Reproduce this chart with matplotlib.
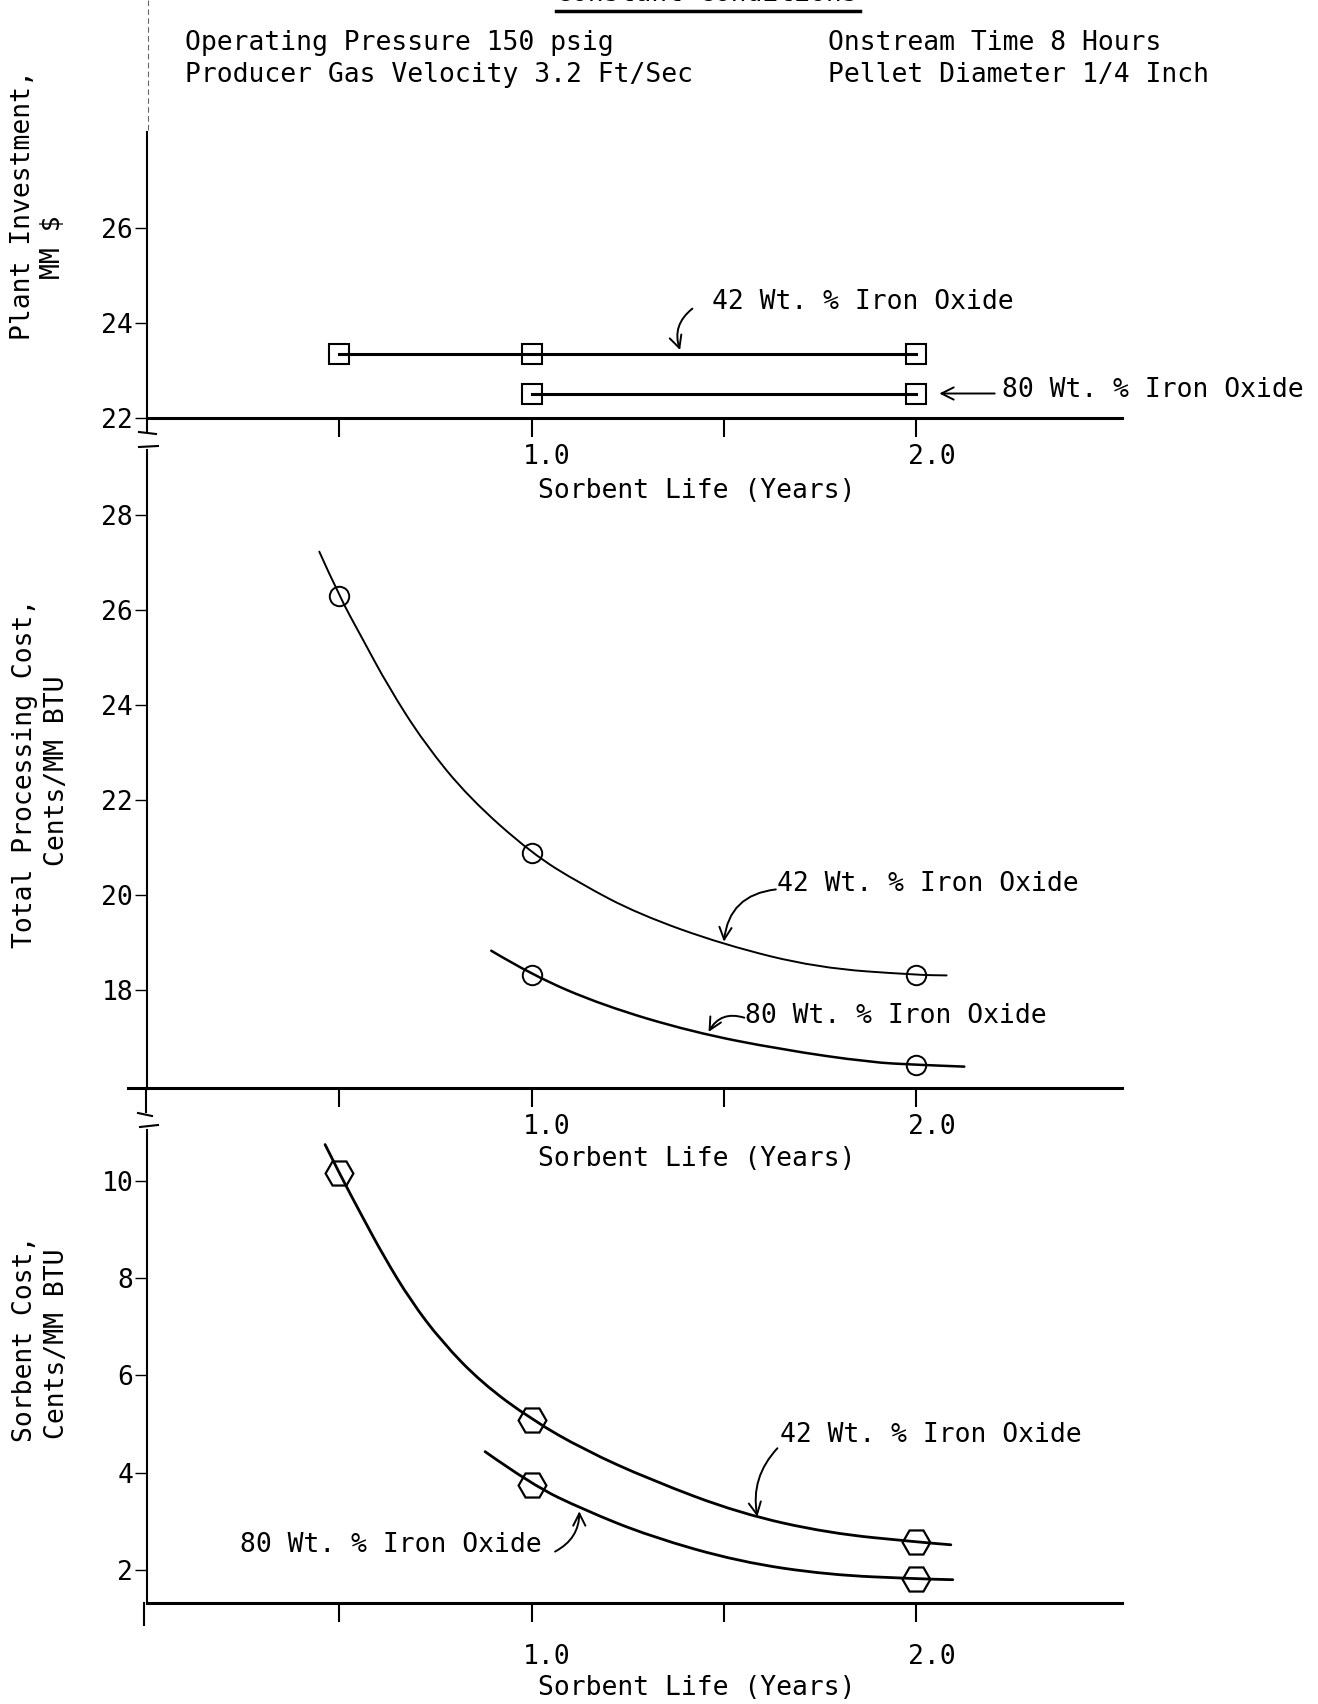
import matplotlib.pyplot as plt
from matplotlib.lines import Line2D
from matplotlib.path import Path
from matplotlib.patches import PathPatch

plt.rcParams['font.family'] = 'DejaVu Sans Mono'
plt.rcParams['font.size'] = 19

W, H = 1318, 1704

# sorbent life of the plotted cases (years)
life_42 = [0.5, 1.0, 2.0]
life_80 = [1.0, 2.0]

# plant investment, MM $
invest_42 = [23.35, 23.35, 23.35]
invest_80 = [22.5, 22.5]

# total processing cost, cents/MM BTU
total_42 = [26.29, 20.88, 18.32]
total_80 = [18.32, 16.43]

# sorbent cost, cents/MM BTU
sorbent_42 = [10.17, 5.09, 2.57]
sorbent_80 = [3.75, 1.81]

# faired curves drawn through the cases
total_curve_42_x = [0.448, 0.5, 0.558, 0.628, 0.721, 0.837, 1.0, 1.127, 1.278, 1.498, 1.742, 2.0, 2.079]
total_curve_42_y = [27.23, 26.29, 25.43, 24.38, 23.20, 22.05, 20.88, 20.24, 19.60, 18.96, 18.47, 18.32, 18.31]
total_curve_80_x = [0.895, 1.0, 1.185, 1.417, 1.649, 1.881, 2.0, 2.125]
total_curve_80_y = [18.83, 18.32, 17.68, 17.12, 16.75, 16.48, 16.43, 16.39]

sorbent_curve_42_x = [0.463, 0.5, 0.558, 0.616, 0.685, 0.766, 0.870, 1.0, 1.136, 1.309, 1.540, 1.772, 2.0, 2.090]
sorbent_curve_42_y = [10.76, 10.17, 9.30, 8.45, 7.55, 6.70, 5.85, 5.09, 4.47, 3.85, 3.16, 2.75, 2.57, 2.51]
sorbent_curve_80_x = [0.879, 1.0, 1.136, 1.309, 1.540, 1.772, 2.0, 2.095]
sorbent_curve_80_y = [4.43, 3.75, 3.23, 2.68, 2.16, 1.89, 1.81, 1.79]

x_ticks = [0.5, 1.0, 1.5, 2.0]
x_labels = {1.0: '1.0', 2.0: '2.0'}
x_title = 'Sorbent Life (Years)'
label_42 = '42 Wt. % Iron Oxide'
label_80 = '80 Wt. % Iron Oxide'

fig = plt.figure(figsize=(W / 100, H / 100), dpi=100)


def fxy(x, y):
    # pixel position (from top-left) to figure fraction
    return x / W, 1 - y / H


def fig_line(xs, ys, **kw):
    pts = [fxy(x, y) for x, y in zip(xs, ys)]
    fig.add_artist(Line2D([p[0] for p in pts], [p[1] for p in pts],
                          transform=fig.transFigure, color='black', **kw))


def faired_curve(ax, xs, ys, lw):
    # quadratic bezier segments using the read points as control points
    verts = [(xs[0], ys[0])]
    codes = [Path.MOVETO]
    for i in range(1, len(xs) - 1):
        verts += [(xs[i], ys[i]), ((xs[i] + xs[i + 1]) / 2, (ys[i] + ys[i + 1]) / 2)]
        codes += [Path.CURVE3, Path.CURVE3]
    verts.append((xs[-1], ys[-1]))
    codes.append(Path.LINETO)
    ax.add_patch(PathPatch(Path(verts, codes), fill=False, lw=lw,
                           edgecolor='black', capstyle='round'))


def panel(bottom_px, top_px, ylim, yticks, tick_off, title_off):
    ax = fig.add_axes([147 / W, 1 - bottom_px / H, 975 / W, (bottom_px - top_px) / H])
    ax.set_xlim(0, 2.535)
    ax.set_ylim(*ylim)
    ax.patch.set_alpha(0)
    for s in ['top', 'right']:
        ax.spines[s].set_visible(False)
    ax.spines['left'].set_linewidth(1.5)
    ax.spines['bottom'].set_linewidth(2.2)
    ax.set_xticks(x_ticks)
    ax.set_xticklabels([])
    ax.tick_params(axis='x', direction='out', length=14, width=1.5)
    ax.set_yticks(yticks)
    ax.tick_params(axis='y', direction='out', length=9, width=1, pad=1, labelsize=19)
    for xv, txt in x_labels.items():
        ax.annotate(txt, xy=(xv + 0.04, 0), xycoords=('data', 'axes fraction'),
                    xytext=(0, -tick_off), textcoords='offset points',
                    ha='center', va='center')
    ax.annotate(x_title, xy=(1.43, 0), xycoords=('data', 'axes fraction'),
                xytext=(0, -title_off), textcoords='offset points',
                ha='center', va='center')
    return ax


def arrow(ax, start, tip, rad):
    ax.annotate('', xy=tip, xytext=start,
                arrowprops=dict(arrowstyle='->', lw=1.4, color='black',
                                mutation_scale=22, shrinkA=0, shrinkB=0,
                                connectionstyle=f'arc3,rad={rad}'))


# header
fig.text(707 / W, 1 - 7 / H, 'Constant Conditions', ha='center', va='bottom')
fig_line([556, 860], [11, 11], lw=2.5)
fig.text(*fxy(185, 43), 'Operating Pressure 150 psig', va='center')
fig.text(*fxy(185, 75), 'Producer Gas Velocity 3.2 Ft/Sec', va='center')
fig.text(*fxy(828, 43), 'Onstream Time 8 Hours', va='center')
fig.text(*fxy(828, 75), 'Pellet Diameter 1/4 Inch', va='center')
fig_line([148, 148], [0, 131], lw=0.8, linestyle=(0, (5, 3)), alpha=0.6)

# plant investment
ax1 = panel(418.3, 131.7, (22, 28.01), [22, 24, 26], 28, 52)
ax1.plot(life_42, invest_42, color='black', lw=2.2, marker='s', ms=14,
         mfc='none', mew=1.5)
ax1.plot(life_80, invest_80, color='black', lw=2.2, marker='s', ms=14,
         mfc='none', mew=1.5)
ax1.text(1.468, 24.44, label_42, va='center')
arrow(ax1, (1.418, 24.3), (1.386, 23.43), 0.35)
ax1.text(2.224, 22.6, label_80, va='center')
arrow(ax1, (2.204, 22.52), (2.06, 22.52), 0)

# total processing cost
ax2 = panel(1088, 450, (15.94, 29.37), [18, 20, 22, 24, 26, 28], 28, 51)
faired_curve(ax2, total_curve_42_x, total_curve_42_y, 1.4)
faired_curve(ax2, total_curve_80_x, total_curve_80_y, 1.8)
ax2.plot(life_42, total_42, 'o', color='black', ms=14, mfc='none', mew=1.4)
ax2.plot(life_80, total_80, 'o', color='black', ms=14, mfc='none', mew=1.4)
ax2.text(1.637, 20.24, label_42, va='center')
arrow(ax2, (1.635, 20.12), (1.50, 19.02), 0.4)
ax2.text(1.556, 17.46, label_80, va='center')
arrow(ax2, (1.553, 17.42), (1.46, 17.12), 0.4)

# sorbent cost
ax3 = panel(1603, 1130, (1.31, 11.06), [2, 4, 6, 8, 10], 39, 61)
faired_curve(ax3, sorbent_curve_42_x, sorbent_curve_42_y, 2.0)
faired_curve(ax3, sorbent_curve_80_x, sorbent_curve_80_y, 2.0)
ax3.plot(life_42, sorbent_42, 'H', color='black', ms=20, mfc='none', mew=1.6)
ax3.plot(life_80, sorbent_80, 'H', color='black', ms=20, mfc='none', mew=1.6)
ax3.text(1.645, 4.78, label_42, va='center')
arrow(ax3, (1.639, 4.5), (1.587, 3.09), 0.25)
ax3.text(1.026, 2.51, label_80, va='center', ha='right')
arrow(ax3, (1.061, 2.37), (1.124, 3.2), 0.3)

# axis breaks and extensions between panels
fig_line([147, 147], [418, 432], lw=1.5)
fig_line([139, 156], [432, 434], lw=1.5)
fig_line([139, 158], [447, 446], lw=1.5)
fig_line([128, 147], [1088, 1088], lw=2.2)
fig_line([146, 146], [1088, 1112], lw=1.5)
fig_line([138, 152], [1113, 1116], lw=1.5)
fig_line([140, 158], [1127, 1125], lw=1.5)
fig_line([144, 144], [1603, 1625], lw=1.5)

# axis titles
fig.text(*fxy(23, 205), 'Plant Investment,', rotation=90, ha='center', va='center')
fig.text(*fxy(53, 247), 'MM $', rotation=90, ha='center', va='center')
fig.text(*fxy(25, 773), 'Total Processing Cost,', rotation=90, ha='center', va='center')
fig.text(*fxy(57, 771), 'Cents/MM BTU', rotation=90, ha='center', va='center')
fig.text(*fxy(25, 1339), 'Sorbent Cost,', rotation=90, ha='center', va='center')
fig.text(*fxy(57, 1344), 'Cents/MM BTU', rotation=90, ha='center', va='center')

fig.savefig('out.png', dpi=100)
